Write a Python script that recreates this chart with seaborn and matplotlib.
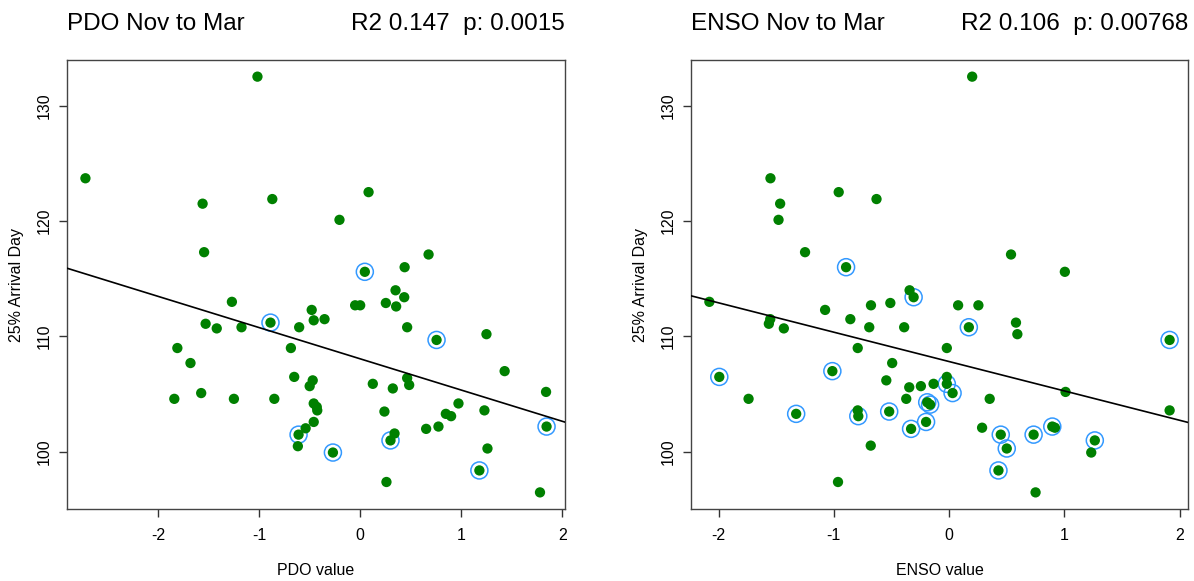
import numpy as np
import pandas as pd
import seaborn as sns
from matplotlib import pyplot as plt

# PDO panel
pdo_x = [-2.72, -1.017, -1.56, -0.87, -1.545, -1.27, -0.48, 0.083, -0.205, 0.677,
         0.046, 0.44, 0.35, 0.436, 0.254, 0.356, -0.05, 0.0, -1.53, -1.42,
         -1.175, -0.888, -0.604, -0.46, -1.81, -1.68, -0.686, -0.653, -0.47, -0.50,
         -1.84, -1.574, -1.25, -0.85, -0.46, -0.43, -0.425, -0.46, -0.54, -0.61,
         -0.617, -0.353, 0.465, 0.756, 1.25, 1.43, 1.84, 1.845, 0.125, 0.323,
         0.465, 0.485, 0.24, 0.973, 0.848, 0.90, 1.23, 0.653, 0.775, 0.34,
         0.30, -0.27, 1.26, 1.18, 0.26, 1.78]
pdo_y = [123.7, 132.5, 121.5, 121.9, 117.3, 113.0, 112.3, 122.5, 120.1, 117.1,
         115.6, 116.0, 114.0, 113.4, 112.9, 112.6, 112.7, 112.7, 111.1, 110.7,
         110.8, 111.2, 110.8, 111.4, 109.0, 107.7, 109.0, 106.5, 106.2, 105.7,
         104.6, 105.1, 104.6, 104.6, 104.2, 103.9, 103.6, 102.6, 102.05, 101.5,
         100.5, 111.5, 110.8, 109.7, 110.2, 107.0, 105.2, 102.2, 105.9, 105.5,
         106.4, 105.8, 103.5, 104.2, 103.3, 103.1, 103.6, 102.0, 102.2, 101.6,
         101.0, 99.95, 100.3, 98.4, 97.4, 96.5]
pdo_ring_x = [0.046, -0.888, -0.61, 0.756, 1.845, 0.30, -0.27, 1.18]
pdo_ring_y = [115.6, 111.2, 101.5, 109.7, 102.2, 101.0, 99.95, 98.4]

# ENSO panel
enso_x = [-1.55, -0.958, -0.63, -1.466, -1.48, -1.25, -0.894, -0.343, -0.308, -2.08,
          -0.678, -0.51, -1.076, 0.2, 0.537, 1.004, 0.078, 0.254, -1.552, -1.564,
          -1.434, -0.857, -0.693, -0.39, -0.793, -1.994, -1.013, -0.494, -1.74, -0.545,
          -0.346, -0.245, -0.135, -1.327, -0.793, -0.788, -0.52, -0.372, -0.19, -0.165,
          -0.2, -0.33, -0.68, -0.964, -0.02, -0.02, 0.03, -0.02, 0.171, 0.58,
          0.592, 1.913, 1.01, 1.913, 0.352, 0.286, 0.448, 0.5, 0.733, 0.895,
          0.918, 1.264, 1.233, 0.428, 0.75]
enso_y = [123.7, 122.5, 121.9, 121.5, 120.1, 117.3, 116.0, 114.0, 113.4, 113.0,
          112.7, 112.9, 112.3, 132.5, 117.1, 115.6, 112.7, 112.7, 111.5, 111.1,
          110.7, 111.5, 110.8, 110.8, 109.0, 106.5, 107.0, 107.7, 104.6, 106.2,
          105.6, 105.7, 105.9, 103.3, 103.6, 103.1, 103.5, 104.6, 104.3, 104.1,
          102.6, 102.0, 100.55, 97.4, 106.5, 105.9, 105.1, 109.0, 110.8, 111.2,
          110.2, 109.7, 105.2, 103.6, 104.6, 102.1, 101.5, 100.3, 101.5, 102.2,
          102.1, 101.0, 99.95, 98.4, 96.5]
enso_ring_x = [-0.894, -0.308, -1.994, -1.013, -1.327, -0.788, -0.52, -0.19, -0.165,
               -0.2, -0.33, -0.02, 0.03, 0.171, 1.913, 0.448, 0.5, 0.733, 0.895,
               1.264, 0.428]
enso_ring_y = [116.0, 113.4, 106.5, 107.0, 103.3, 103.1, 103.5, 104.3, 104.1,
               102.6, 102.0, 105.9, 105.1, 110.8, 109.7, 101.5, 100.3, 101.5, 102.2,
               101.0, 98.4]

panels = [
    ('PDO Nov to Mar', 'R2 0.147  p: 0.0015', 'PDO value', pdo_x, pdo_y, pdo_ring_x, pdo_ring_y),
    ('ENSO Nov to Mar', 'R2 0.106  p: 0.00768', 'ENSO value', enso_x, enso_y, enso_ring_x, enso_ring_y),
]

sns.set_style('ticks')
plt.rcParams['font.family'] = ['Liberation Sans', 'DejaVu Sans']
plt.rcParams['axes.unicode_minus'] = False
plt.rcParams['text.color'] = 'black'
plt.rcParams['axes.labelcolor'] = 'black'
plt.rcParams['xtick.labelcolor'] = 'black'
plt.rcParams['ytick.labelcolor'] = 'black'

fig = plt.figure(figsize=(11.94, 5.81), dpi=100)
boxes = [[0.0561, 0.1239, 0.4171, 0.7728], [0.5787, 0.1239, 0.4163, 0.7728]]

for box, (title, stats, xlab, x, y, rx, ry) in zip(boxes, panels):
    ax = fig.add_axes(box)
    df = pd.DataFrame({'x': x, 'y': y})
    rings = pd.DataFrame({'x': rx, 'y': ry})

    # R style 4% padding around the data
    xr = max(x) - min(x)
    yr = max(y) - min(y)
    ax.set_xlim(min(x) - 0.04 * xr, max(x) + 0.04 * xr)
    ax.set_ylim(min(y) - 0.04 * yr, max(y) + 0.04 * yr)

    sns.scatterplot(data=rings, x='x', y='y', ax=ax, s=150, facecolor='none',
                    edgecolor='#3399ff', linewidth=1.1, zorder=2)
    sns.scatterplot(data=df, x='x', y='y', ax=ax, s=55, color='#008000',
                    edgecolor='none', zorder=3)
    sns.regplot(data=df, x='x', y='y', ax=ax, scatter=False, ci=None, truncate=False,
                line_kws={'color': 'black', 'lw': 1.2, 'zorder': 4})

    ax.set_xticks([-2, -1, 0, 1, 2])
    ax.set_yticks([100, 110, 120, 130])
    ax.set_yticklabels(['100', '110', '120', '130'], rotation=90, va='center')
    ax.tick_params(labelsize=11.5, length=6, width=1, color='#333333')
    ax.tick_params(axis='x', pad=8)
    ax.tick_params(axis='y', pad=5)
    ax.set_xlabel(xlab, fontsize=11.5, labelpad=14)
    ax.set_ylabel('25% Arrival Day', fontsize=11.5, labelpad=9)
    for s in ax.spines.values():
        s.set_visible(True)
        s.set_color('#444444')
        s.set_linewidth(1)

    ax.text(0, 1.055, title, transform=ax.transAxes, fontsize=17.5, ha='left', va='bottom')
    ax.text(1, 1.055, stats, transform=ax.transAxes, fontsize=17.5, ha='right', va='bottom')

plt.savefig('out.png', dpi=100)
